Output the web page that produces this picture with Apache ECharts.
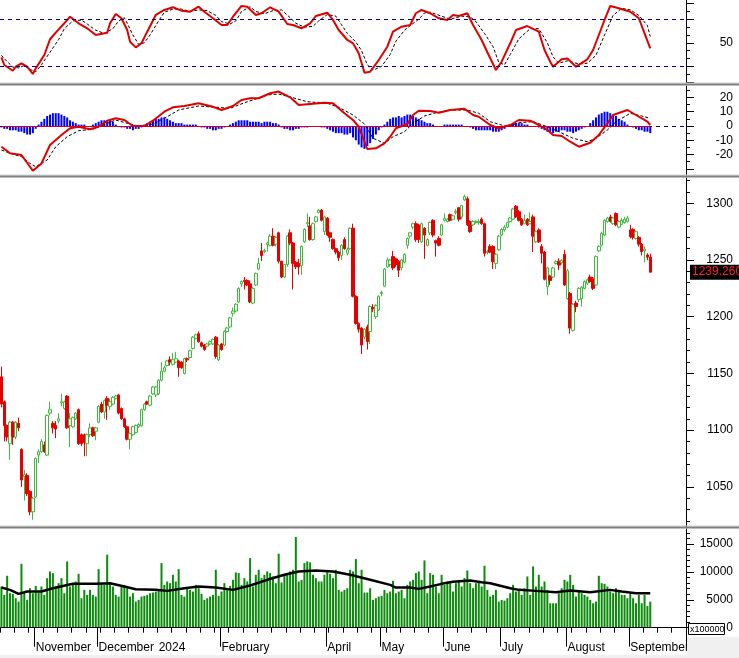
<!DOCTYPE html>
<html><head><meta charset="utf-8">
<script src="https://cdn.jsdelivr.net/npm/echarts@6/dist/echarts.min.js"></script>
<style>html,body{margin:0;padding:0;background:#fff}#c{width:739px;height:658px}</style>
</head><body><div id="c"></div><script>
// ---------- categories (trading days per month) ----------
const monthNames = ['', 'November', 'December', '2024', 'February', 'March', 'April', 'May', 'June', 'July', 'August', 'September'];
const monthDays  = [12, 22, 21, 22, 16, 21, 19, 22, 20, 23, 22, 20];
const hiddenMonthLabels = ['', 'March'];
const noTickMonths = ['', '2024', 'March'];

// ---------- price: [open, close, low, high] ----------
const ohlc = [
[1147,1123,1120,1156],[1125,1104,1090,1126],[1104,1094,1090,1105],[1088,1107,1074,1108],[1107,1094,1087,1108],
[1094,1107,1092,1108],[1106,1102,1099,1111],[1083,1056,1050,1084],[1059,1061,1038,1065],[1060,1044,1042,1062],
[1046,1028,1025,1047],[1028,1040,1021,1041],[1041,1075,1040,1076],[1078,1081,1071,1083],[1081,1090,1080,1092],
[1087,1081,1080,1090],[1078,1113,1077,1114],[1115,1118,1113,1125],[1106,1102,1097,1108],[1104,1101,1093,1108],
[1108,1110,1106,1115],[1124,1125,1121,1132],[1119,1125,1118,1126],[1130,1102,1101,1131],[1104,1110,1085,1115],
[1103,1111,1102,1112],[1110,1115,1109,1116],[1118,1088,1087,1119],[1096,1088,1086,1097],[1096,1089,1077,1097],
[1088,1096,1077,1097],[1096,1102,1094,1106],[1102,1095,1094,1103],[1099,1102,1091,1103],[1107,1121,1106,1122],
[1123,1116,1115,1125],[1116,1126,1110,1127],[1128,1122,1109,1130],[1121,1125,1118,1128],[1123,1129,1122,1130],
[1128,1130,1127,1131],[1131,1115,1114,1132],[1119,1110,1109,1120],[1110,1103,1102,1111],[1103,1092,1091,1104],
[1092,1097,1083,1098],[1096,1103,1095,1104],[1098,1104,1097,1105],[1103,1105,1102,1106],[1104,1118,1103,1119],
[1118,1123,1117,1124],[1125,1123,1122,1126],[1122,1130,1121,1131],[1132,1138,1131,1139],[1131,1138,1129,1139],
[1132,1144,1131,1145],[1144,1152,1143,1160],[1152,1155,1151,1157],[1157,1161,1156,1162],[1162,1160,1157,1165],
[1158,1162,1157,1168],[1160,1163,1159,1169],[1161,1155,1147,1162],[1160,1155,1154,1161],[1150,1163,1149,1164],
[1163,1162,1160,1164],[1164,1170,1163,1171],[1172,1182,1171,1183],[1181,1184,1180,1185],[1185,1178,1177,1187],
[1177,1174,1173,1178],[1175,1171,1170,1176],[1174,1176,1173,1177],[1176,1178,1175,1179],[1176,1180,1175,1181],
[1182,1165,1163,1183],[1162,1175,1161,1176],[1176,1171,1170,1177],[1175,1187,1174,1188],[1187,1190,1186,1191],
[1191,1199,1190,1200],[1203,1205,1200,1208],[1205,1211,1204,1212],[1213,1225,1212,1226],[1229,1231,1226,1232],
[1232,1231,1224,1235],[1232,1228,1227,1233],
[1229,1213,1212,1232],[1212,1225,1211,1226],[1228,1238,1227,1239],[1242,1247,1241,1252],[1258,1254,1249,1265],
[1257.5,1258.5,1256,1260],[1263.5,1265,1257.5,1266],[1263,1271,1262,1273],[1271,1263,1262,1278],[1264,1270,1262,1271],
[1274,1249,1247,1275],[1249,1235,1234,1249],[1235,1246,1234,1246],[1246,1271,1244,1272],[1274,1265,1263,1277],
[1265,1247,1224,1266],[1248,1244,1242,1249],[1247,1244,1237,1251],[1245,1262,1237,1263],[1266,1277,1265,1278],
[1282,1283,1279,1291],[1280,1268,1267,1288],[1268,1282,1267,1283],[1284,1288,1283,1289],[1292,1294,1291,1295],
[1294,1285,1284,1295],[1275,1288,1272,1289],[1287,1272,1271,1288],[1274,1270,1266,1275],[1268,1260,1259,1269],
[1260,1257,1255,1261],[1257,1252,1249,1258],[1254,1263,1250,1264],[1268,1260,1259,1270],[1256,1259,1254,1261],
[1260,1278,1259,1279],[1278,1218,1217,1282],[1218,1194,1193,1219],[1194,1189,1186,1195],[1190,1175,1167,1191],
[1182,1189,1180,1190],[1191,1178,1171,1193],[1187,1209,1176,1210],[1208,1207,1204,1211],[1200,1210,1198,1211],
[1206,1218,1205,1219],[1220.5,1221.5,1218,1223],[1227,1242,1226,1243],[1244,1250,1243,1252],[1246,1250,1244,1251],
[1253,1243,1241,1258],[1251,1246,1244,1252],[1249,1241,1235,1250],[1243,1250,1241,1251],[1248,1255,1247,1256],
[1263,1269,1260,1270],[1271,1274,1269,1274.5],[1279,1282,1277,1283],[1282,1268,1266,1284],[1281,1268,1265,1282],
[1266,1282,1265,1283],[1278,1272,1251,1279],[1263,1268,1262,1269],[1274,1283,1272,1284],[1285,1272,1270,1286],
[1267,1265,1253,1268],[1269,1263,1262,1271],[1272,1281,1271,1282],[1285,1286.5,1284,1291],[1284,1286,1283,1287],
[1290,1285,1284,1291],[1286,1289,1285,1290],[1292,1293,1290,1295],[1296,1286,1284,1296.5],[1288,1298,1286,1298.5],
[1303,1306,1302,1307.5],[1304,1281,1280,1306],[1284,1275,1274,1285],[1281,1284,1280,1285],[1283,1284,1282,1285],
[1283,1284,1281,1286],[1286,1282,1281,1287.5],[1282,1256,1253,1283],
[1256.5,1257.5,1255,1259],[1262,1257,1256,1264],[1262,1248.5,1242,1263],[1247,1255,1242,1256],[1259,1271,1258,1272],
[1272,1277,1271,1278],[1276.5,1279,1275,1281],[1279,1283,1278,1284],[1284,1287,1283,1288],[1286,1295,1285,1296],
[1297.5,1288,1287,1298.5],[1292.5,1285,1284,1294],[1286,1281,1280,1287],[1282,1285,1282,1290],[1286,1281,1280,1287],
[1282,1284,1282,1292],[1288,1271,1257,1290],[1266,1275,1265,1276],[1276.5,1266,1265,1278],[1262,1256,1247,1264],
[1257,1233,1232,1258],[1226.5,1243,1219,1244],[1236,1232,1228,1237],[1235,1243,1234,1244],[1247,1248.5,1246,1250],
[1249,1245.5,1241,1251.5],[1247.5,1249.5,1246,1251],[1255,1228,1227,1259],[1216,1240.5,1215,1242],[1220.5,1190,1185,1222],
[1188,1211,1187,1212],[1212,1209,1204,1214],[1215,1225,1213,1226],[1216,1226,1209,1227],[1225,1231,1224,1232],
[1229.5,1232.5,1228,1233.5],[1235,1231,1230,1237],[1234,1225,1223.5,1235],[1228,1253,1227,1254],[1258,1262,1257,1263],
[1263,1273.5,1262,1275],[1272,1285,1271,1286],[1284,1287,1283,1288],[1288,1284,1283,1290],[1282,1287,1281,1288],
[1291,1281,1280,1292],[1279,1284,1278,1285],[1281.5,1285,1281,1287],[1283,1286,1282,1288],[1284,1287,1283,1289],
[1276.5,1270.5,1269,1281],[1277,1270,1268,1278],[1269,1275,1268,1276],[1270,1264,1262,1271],[1264,1257.5,1254,1265],
[1258,1259.5,1248,1262],[1254.5,1252.5,1250,1256],[1252.5,1239.26,1239,1255.5]
];
const lastPrice = 1239.26;

// ---------- volume (x100000) ----------
const volume = [
7380,5880,9300,6180,6060,5280,4680,11460,6300,4980,
7080,6180,7500,6300,7380,5880,8880,10080,9780,7380,
7980,8880,6180,11880,7380,7980,8280,9660,5280,6780,
5880,6780,5880,5580,10500,7980,7680,13080,7980,7380,
5880,5580,7380,7680,7080,5580,6180,4680,4980,5580,
5700,5880,6180,6300,6480,6780,11580,7680,8280,7980,
9480,8280,10500,5880,5580,7080,6780,6480,7680,7080,
6060,4980,5280,5580,5880,10380,5700,6480,7980,6780,
7500,8580,9900,9780,7680,8880,8280,12480,7380,9480,
10380,8880,9480,10080,9780,9180,7980,13260,8100,9480,
9780,10080,10380,16260,8280,8580,11580,11880,11700,9480,
8880,8280,8280,9480,10080,9660,8880,10380,6780,6480,
6780,7080,10380,10080,12300,7980,10380,6300,6300,7080,
4980,5280,5580,5700,6780,6180,6480,8400,6180,6480,
6780,5280,7680,8280,8580,9780,10080,8580,12060,6180,
9780,9480,7380,6180,9480,7680,8280,7980,6480,7980,
8280,7380,8880,10260,7980,7080,7980,8280,7380,11100,
6780,5580,5880,6780,4680,4980,4860,5280,6180,7680,
6480,6780,5880,7080,9180,5880,10980,7380,9480,7380,
8280,6780,4380,4380,4380,6180,7080,8580,8280,9480,
7680,5580,6480,6180,5880,5580,4980,4380,4680,9300,
7980,7860,7380,6480,6180,7080,6780,5880,5880,5280,
6180,5280,4380,5880,4380,5880,3900,4680
];
const volumeMA = [[0,7200],[3,6780],[6,6060],[9,6480],[14,6480],[18,7080],[25,7860],[33,7860],[38,7980],[43,7380],[47,6900],[54,6780],[58,6600],[64,7080],[69,7380],[75,7200],[81,6780],[87,7560],[93,8580],[99,9480],[104,10080],[110,10260],[116,10080],[122,9480],[129,8580],[136,7680],[138,7200],[143,7200],[146,6960],[150,7380],[154,7860],[158,8220],[164,8460],[168,8160],[171,7980],[178,7080],[181,6780],[187,6600],[194,6360],[199,6660],[206,6360],[213,6780],[217,6480],[222,6180],[227,6180]];

// ---------- stochastic ----------
const stochK = [[0,31.5],[1,21.7],[4,14.4],[5,19.5],[7,23.8],[9,19.5],[11,10.2],[12,17.4],[15,34.4],[17,54.5],[19,62.9],[22,74.9],[24,83.3],[27,74.9],[30,68.5],[33,60],[37,62.9],[38,74.9],[40,86.8],[42,81.3],[44,66.3],[45,51.4],[47,44.2],[49,49.4],[51,64.2],[54,85.5],[57,91.9],[60,95.3],[63,91],[66,89.7],[69,96.1],[71,89.7],[74,81.3],[77,72.7],[79,72.7],[81,83.3],[84,97],[86,96],[89,85.5],[91,87.7],[94,95.3],[97,89.7],[100,74],[102,72.7],[105,68.5],[108,74.9],[110,84.2],[114,88.4],[116,79.1],[118,66.3],[121,53.6],[123,49.4],[125,36.6],[127,11.8],[129,13.1],[132,28],[135,45],[137,64.2],[140,70.6],[143,72.7],[145,87.7],[147,91.9],[150,87.7],[153,81.3],[156,79.1],[158,85.5],[160,84.2],[163,87.7],[165,72.7],[168,53.6],[170,38],[173,15.3],[175,25.9],[178,49.4],[180,66.3],[184,71.4],[188,64.2],[190,40.8],[192,25.9],[193,19.5],[196,28.9],[198,30.1],[201,19.5],[205,28.9],[207,40.8],[211,79.1],[213,97],[216,94],[220,89.7],[223,81.3],[225,62.1],[227,43]];
const stochD = [[0,34],[2,26],[4,19],[6,18],[8,21],[10,16],[12,13],[14,22],[17,38],[20,54],[22,68],[25,78],[28,79],[30,74],[33,66],[36,62],[39,68],[41,78],[43,82],[44,75],[46,60],[48,48],[50,50],[52,60],[55,78],[57,89],[60,93],[63,93],[66,90],[69,92],[72,91],[75,85],[77,77],[80,74],[82,78],[84,90],[87,96],[89,90],[92,87],[95,91],[98,92],[101,82],[103,75],[106,70],[109,71],[111,78],[114,86],[117,84],[119,73],[121,62],[124,51],[126,40],[128,22],[130,15],[133,20],[136,35],[138,52],[141,66],[143,72],[146,80],[148,88],[150,89],[154,84],[157,80],[159,82],[161,84],[164,83],[166,77],[169,62],[172,45],[174,25],[176,22],[178,35],[181,55],[185,68],[188,68],[191,50],[193,32],[195,24],[198,27],[202,23],[205,24],[208,34],[211,60],[214,85],[217,94],[220,92],[223,85],[226,72],[227,58]];

// ---------- MACD ----------
const macdLine = [[0,-14.5],[3,-19.1],[7,-20.3],[11,-31.3],[14,-26.2],[17,-13.3],[21,-6.3],[24,-1.6],[27,-0.5],[31,-2.3],[34,-0.5],[37,3.7],[40,5.4],[43,4.2],[46,0],[50,0],[53,3.7],[57,10],[60,13.1],[64,14],[69,15.9],[74,13.5],[77,11.2],[81,14],[84,18.2],[87,19.4],[90,19.4],[94,22.9],[97,24.1],[101,20.1],[104,14.7],[108,15.4],[113,16.3],[116,15.9],[120,8.9],[123,4.2],[125,-0.5],[128,-16.1],[131,-15.6],[134,-12.1],[136,-7.5],[138,-1.6],[142,1.4],[144,7.7],[146,10.7],[150,10.5],[153,9.3],[157,11.2],[162,12.1],[165,7.7],[167,6.5],[171,0.7],[174,-1.6],[178,0.7],[181,4.2],[185,3.7],[188,0.7],[191,-2.8],[193,-6.3],[196,-7],[199,-11],[202,-14.5],[206,-11.7],[209,-6.3],[212,1.9],[214,7.7],[219,11.2],[222,7.7],[226,3],[227,0.7]];
const macdSignal = [[0,-16.8],[3,-19.1],[7,-21.5],[10,-26.2],[12,-28.5],[16,-23.8],[19,-14.5],[23,-7.5],[27,-3.3],[32,-2.3],[37,1.9],[40,4.2],[44,1.9],[48,0],[53,1.4],[58,6.5],[62,11.2],[69,14],[75,13.1],[80,12.4],[83,14.7],[86,17],[88,18.2],[93,21.7],[97,22.4],[102,19.8],[107,17],[114,15.9],[118,13.1],[123,7.7],[127,1.4],[130,-8.6],[134,-12.1],[137,-7.5],[141,-4],[144,1.9],[148,7],[152,9.3],[158,11.2],[163,11.2],[167,8.9],[171,3],[177,-0.5],[181,2.3],[186,3],[191,-0.5],[195,-4],[200,-8.6],[205,-11],[208,-8.6],[212,-2.8],[215,3],[220,8.9],[224,7],[227,5.4]];
const macdHist = [
-1,-2,-2,-3,-3,-3,-4,-4,-5,-6,
-6,-5,-2,1,3,5,7,8,9,9,
9,8,7,6,4,3,2,1,1,1,
0,0,1,2,3,4,4,4,4,3,
1,0,-1,-1,-2,-2,-3,-2,-2,-1,
1,2,3,4,5,5,6,6,5,4,
3,2,2,2,1,1,1,1,1,0,
-1,-1,-2,-2,-3,-3,-2,-2,-1,0,
1,2,3,4,4,4,4,3,3,3,
3,2,3,3,3,2,2,1,-1,-2,
-2,-3,-3,-2,-2,-1,-1,-1,0,0,
0,0,-1,-1,-2,-3,-4,-5,-5,-5,
-6,-6,-5,-8,-10,-13,-15,-16,-14,-12,
-9,-6,-3,-1,1,3,5,6,6,7,
6,7,8,8,7,6,5,4,3,2,
2,1,0,0,0,1,1,1,1,1,
1,1,0,0,-1,-2,-3,-3,-3,-3,
-3,-3,-4,-4,-4,-3,-2,0,1,2,
2,2,2,1,1,0,0,0,-1,-2,
-3,-4,-4,-5,-4,-4,-3,-3,-4,-4,
-5,-4,-3,-2,-1,0,2,4,6,8,
9,10,10,9,8,7,5,4,3,1,
0,-1,-2,-3,-3,-4,-4,-5
];

// ---------- axis tick / label values ----------
const stochTicksMajor = [0, 20, 50, 80, 100], stochTicksMinor = [10, 30, 40, 60, 70, 90], stochLabels = [50];
const macdTicksMajor = [-30, -20, -10, 0, 10, 20], macdTicksMinor = [-25, -15, -5, 5, 15, 25], macdLabels = [-20, -10, 0, 10, 20];
const priceLabels = [1050, 1100, 1150, 1200, 1250, 1300];
const priceMinor = [1020,1030,1040,1060,1070,1080,1090,1110,1120,1130,1140,1160,1170,1180,1190,1210,1220,1230,1240,1260,1270,1280,1290,1310,1320];
const volLabels = [0, 5000, 10000, 15000];
const volMinor = [1000,2000,3000,4000,6000,7000,8000,9000,11000,12000,13000,14000,16000,17000];

// ---------- build ----------
const cats = [];
monthNames.forEach((m, k) => { for (let d = 1; d <= monthDays[k]; d++) cats.push(m + '|' + d); });
const lastIdx = ohlc.length - 1;

const FONT = 'Liberation Sans, Arial, sans-serif';
function yPair(grid, min, max, majors, minors, labels) {
  return [
    { type: 'value', gridIndex: grid, position: 'right', min: min, max: max,
      axisLine: { show: true, lineStyle: { color: '#000', width: 1 } },
      axisTick: { show: true, length: 8, customValues: majors, lineStyle: { color: '#000' } },
      axisLabel: { show: true, customValues: labels, align: 'right', margin: 47, color: '#000', fontSize: 12, fontFamily: FONT,
        formatter: v => String(v) },
      splitLine: { show: false } },
    { type: 'value', gridIndex: grid, position: 'right', min: min, max: max,
      axisLine: { show: false },
      axisTick: { show: true, length: 4, customValues: minors, lineStyle: { color: '#000' } },
      axisLabel: { show: false }, splitLine: { show: false } }
  ];
}
function hiddenX(grid) {
  return { type: 'category', gridIndex: grid, data: cats, boundaryGap: true, position: 'bottom',
    axisLine: { show: false }, axisTick: { show: false }, axisLabel: { show: false }, splitLine: { show: false } };
}
const isMonthStart = v => v.split('|')[1] === '1';
const monthOf = v => v.split('|')[0];

const option = {
  animation: false,
  backgroundColor: '#ffffff',
  grid: [
    { left: 0, right: 53, top: 0, height: 82 },
    { left: 0, right: 53, top: 86, height: 89 },
    { left: 0, right: 53, top: 178, height: 349 },
    { left: 0, right: 53, top: 529, height: 107 }
  ],
  xAxis: [
    hiddenX(0), hiddenX(1), hiddenX(2),
    { type: 'category', gridIndex: 3, data: cats, boundaryGap: true, position: 'bottom', offset: 0,
      axisLine: { show: true, lineStyle: { color: '#000', width: 1 } },
      axisTick: { show: true, length: 5, interval: (i) => i % 5 === 0, lineStyle: { color: '#000' } },
      axisLabel: { show: false }, splitLine: { show: false } },
    { type: 'category', gridIndex: 3, data: cats, boundaryGap: true, position: 'bottom', offset: 0,
      axisLine: { show: false },
      axisTick: { show: true, length: 19, interval: (i, v) => isMonthStart(v) && noTickMonths.indexOf(monthOf(v)) < 0, lineStyle: { color: '#000' } },
      axisLabel: { show: true, interval: (i, v) => isMonthStart(v) && hiddenMonthLabels.indexOf(monthOf(v)) < 0,
        formatter: v => monthOf(v), align: 'left', margin: 6, color: '#000', fontSize: 12, fontFamily: FONT },
      splitLine: { show: false } }
  ],
  yAxis: [].concat(
    yPair(0, 0, 104.6, stochTicksMajor, stochTicksMinor, stochLabels),
    yPair(1, -34.3, 28, macdTicksMajor, macdTicksMinor, macdLabels),
    yPair(2, 1014.6, 1322.3, priceLabels, priceMinor, priceLabels),
    yPair(3, -1487, 17688, volLabels, volMinor, volLabels)
  ),
  series: [
    { name: '%K', type: 'line', xAxisIndex: 0, yAxisIndex: 0, data: stochK, showSymbol: false, z: 4,
      lineStyle: { color: '#e00000', width: 2 }, itemStyle: { color: '#e00000' },
      markLine: { silent: true, symbol: 'none', label: { show: false },
        lineStyle: { color: '#000080', type: [4, 4], width: 1 },
        data: [{ yAxis: 80 }, { yAxis: 20 }] } },
    { name: '%D', type: 'line', xAxisIndex: 0, yAxisIndex: 0, data: stochD, showSymbol: false, z: 3,
      lineStyle: { color: '#000', width: 1, type: [3, 2] }, itemStyle: { color: '#000' } },
    { name: 'Hist', type: 'bar', xAxisIndex: 1, yAxisIndex: 2, data: macdHist, barWidth: 2,
      itemStyle: { color: '#0000ff' },
      markLine: { silent: true, symbol: 'none', label: { show: false },
        data: [
          { yAxis: 0, lineStyle: { color: '#000080', type: [4, 4], width: 1 } },
          [{ coord: [cats[0], 0], lineStyle: { color: '#d00020', type: 'solid', width: 1 } }, { coord: [cats[lastIdx], 0] }]
        ] } },
    { name: 'MACD', type: 'line', xAxisIndex: 1, yAxisIndex: 2, data: macdLine, showSymbol: false, z: 4,
      lineStyle: { color: '#e00000', width: 2 }, itemStyle: { color: '#e00000' } },
    { name: 'Signal', type: 'line', xAxisIndex: 1, yAxisIndex: 2, data: macdSignal, showSymbol: false, z: 3,
      lineStyle: { color: '#000', width: 1, type: [3, 2] }, itemStyle: { color: '#000' } },
    { name: 'Price', type: 'candlestick', xAxisIndex: 2, yAxisIndex: 4, data: ohlc, barWidth: 3,
      itemStyle: { color: '#ffffff', borderColor: '#3dbb3d', color0: '#e60000', borderColor0: '#e60000', borderWidth: 1 },
      markLine: { silent: true, symbol: 'none', z: 10,
        lineStyle: { color: 'rgba(0,0,0,0)', width: 1, type: 'solid' },
        label: { show: true, position: 'end', distance: 4, formatter: lastPrice.toFixed(3),
          color: '#ff2020', backgroundColor: '#000000', padding: [2, 2, 1, 2], fontSize: 12, fontFamily: FONT },
        data: [{ yAxis: lastPrice }] } },
    { name: 'Volume', type: 'bar', xAxisIndex: 3, yAxisIndex: 6, data: volume, barWidth: 2,
      itemStyle: { color: '#0b8a0b' },
      markLine: { silent: true, symbol: 'none', label: { show: false },
        lineStyle: { color: '#000', type: 'solid', width: 1 },
        data: [[{ coord: [cats[0], 0] }, { coord: [cats[lastIdx], 0] }]] } },
    { name: 'Vol MA', type: 'line', xAxisIndex: 3, yAxisIndex: 6, data: volumeMA, showSymbol: false, z: 4,
      lineStyle: { color: '#000', width: 2.5 }, itemStyle: { color: '#000' } }
  ],
  graphic: [
    { type: 'rect', z: 100, shape: { x: 0, y: 82.5, width: 739, height: 1 }, style: { fill: '#d0d0d0' } },
    { type: 'rect', z: 100, shape: { x: 0, y: 83.5, width: 739, height: 2 }, style: { fill: '#7f7f7f' } },
    { type: 'rect', z: 100, shape: { x: 0, y: 174.5, width: 739, height: 1 }, style: { fill: '#d0d0d0' } },
    { type: 'rect', z: 100, shape: { x: 0, y: 175.5, width: 739, height: 2 }, style: { fill: '#7f7f7f' } },
    { type: 'rect', z: 100, shape: { x: 0, y: 525.5, width: 739, height: 1 }, style: { fill: '#d0d0d0' } },
    { type: 'rect', z: 100, shape: { x: 0, y: 526.5, width: 739, height: 2 }, style: { fill: '#7f7f7f' } },
    { type: 'rect', z: 100, shape: { x: 687, y: 637, width: 52, height: 21 }, style: { fill: '#f0f0f0' } },
    { type: 'rect', z: 100, shape: { x: 0, y: 655, width: 739, height: 3 }, style: { fill: '#f0f0f0' } },
    { type: 'rect', z: 100, shape: { x: 688.5, y: 623.5, width: 36, height: 11 }, style: { fill: '#fff', stroke: '#000', lineWidth: 1 } },
    { type: 'text', z: 101, x: 690, y: 625, style: { text: 'x100000', font: '9px Liberation Sans, Arial', fill: '#000' } }
  ]
};
const chart = echarts.init(document.getElementById('c'), null, { renderer: 'canvas' });
chart.setOption(option);
</script></body></html>
